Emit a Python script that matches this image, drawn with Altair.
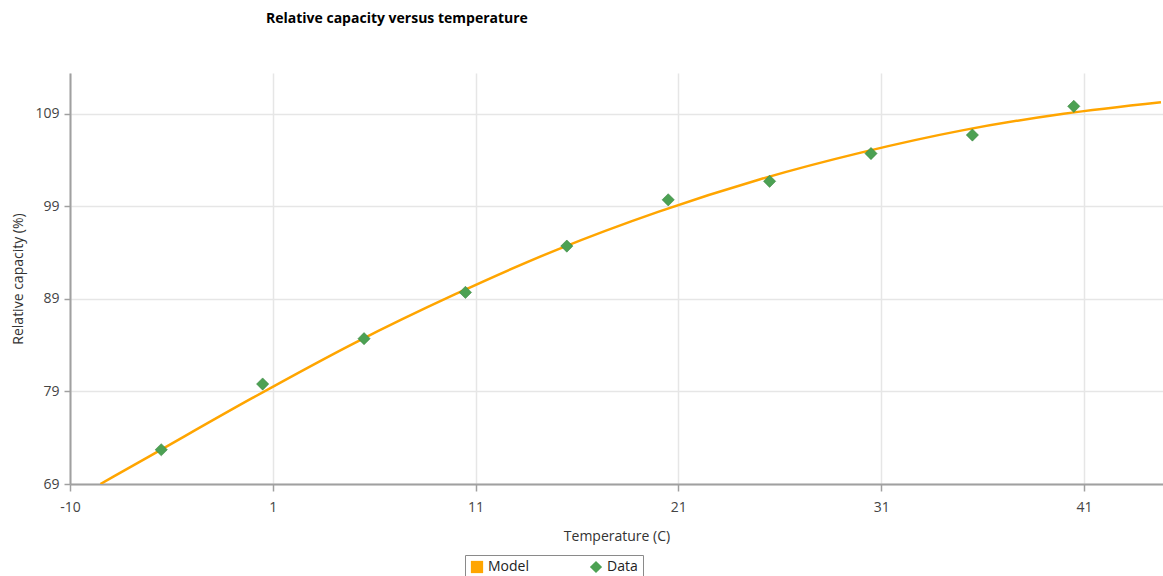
import altair as alt
import pandas as pd

# Model curve
model_temp = [-7.5, -5, 0, 5, 10, 15, 20, 25, 30, 35, 40, 44.8]
model_cap = [69.0, 72.1, 78.3, 84.2, 89.5, 94.3, 98.4, 101.9, 104.8, 107.2, 109.0, 110.25]

# Measured data (diamonds)
data_temp = [-4.5, 0.5, 5.5, 10.5, 15.5, 20.5, 25.5, 30.5, 35.5, 40.5]
data_cap = [72.7, 79.8, 84.7, 89.7, 94.7, 99.7, 101.7, 104.7, 106.7, 109.8]

series_names = ["Model", "Data"]
series_colors = ["#FFA500", "#4CA153"]
series_shapes = ["square", "diamond"]

x_ticks = [-9, 1, 11, 21, 31, 41]
y_ticks = [69, 79, 89, 99, 109]

FONT = "Open Sans"

model_df = pd.DataFrame({"t": model_temp, "c": model_cap})
data_df = pd.DataFrame({"t": data_temp, "c": data_cap})
legend_df = pd.DataFrame({"series": series_names})

x_scale = alt.Scale(domain=[-9, 44.9], nice=False, zero=False)
y_scale = alt.Scale(domain=[69, 113.4], nice=False, zero=False)

x_axis = alt.Axis(
    title="Temperature (C)", values=x_ticks,
    labelExpr="datum.value == -9 ? '-10' : datum.label",
    titleY=52, titleBaseline="middle", labelFlush=False,
)
y_axis = alt.Axis(
    title="Relative capacity (%)", values=y_ticks,
    titleX=-52, titleBaseline="middle", titleAngle=-90, labelFlush=False,
)

line = alt.Chart(model_df).mark_line(
    color=series_colors[0], strokeWidth=2.5, interpolate="monotone", clip=True
).encode(
    x=alt.X("t:Q", scale=x_scale, axis=x_axis),
    y=alt.Y("c:Q", scale=y_scale, axis=y_axis),
)

points = alt.Chart(data_df).mark_point(
    shape="diamond", filled=True, size=150, color=series_colors[1], opacity=1,
    stroke="#2f7d36", strokeWidth=0.5,
).encode(
    x=alt.X("t:Q", scale=x_scale),
    y=alt.Y("c:Q", scale=y_scale),
)

leg = alt.Legend(
    title=None, orient="none", legendX=395, legendY=482, direction="horizontal",
    strokeColor="#8a8a8a", padding=5, symbolSize=150, symbolOpacity=1,
    symbolStrokeWidth=0, labelFontSize=14, labelFont=FONT, labelColor="#222222",
    labelOffset=4, columnPadding=60,
)

legend_layer = alt.Chart(legend_df).mark_point(filled=True, opacity=0).encode(
    x=alt.value(0), y=alt.value(0),
    color=alt.Color("series:N", scale=alt.Scale(domain=series_names, range=series_colors), legend=leg),
    shape=alt.Shape("series:N", scale=alt.Scale(domain=series_names, range=series_shapes), legend=leg),
)

chart = alt.layer(line, points, legend_layer).properties(
    width=1093, height=411,
    padding={"left": 70, "top": 73, "right": 0, "bottom": 92},
    autosize=alt.AutoSizeParams(type="none"),
    title=alt.TitleParams(
        "Relative capacity versus temperature", anchor="start", dx=255,
        offset=44, fontSize=14, fontWeight="bold", font=FONT, color="#000000",
    ),
).configure_view(stroke=None).configure_axis(
    labelFont=FONT, labelFontSize=14, labelColor="#444444",
    titleFont=FONT, titleFontSize=14, titleFontWeight="normal", titleColor="#333333",
    domainColor="#a0a0a0", domainWidth=2, tickColor="#a0a0a0", tickWidth=1.5, tickSize=7,
    gridColor="#e6e6e6", gridWidth=1.5, labelPadding=6,
).configure_axisX(labelPadding=9).configure_axisY(labelPadding=5, tickSize=6)

chart.save("out.html", embed_options={"renderer": "svg", "actions": False})
